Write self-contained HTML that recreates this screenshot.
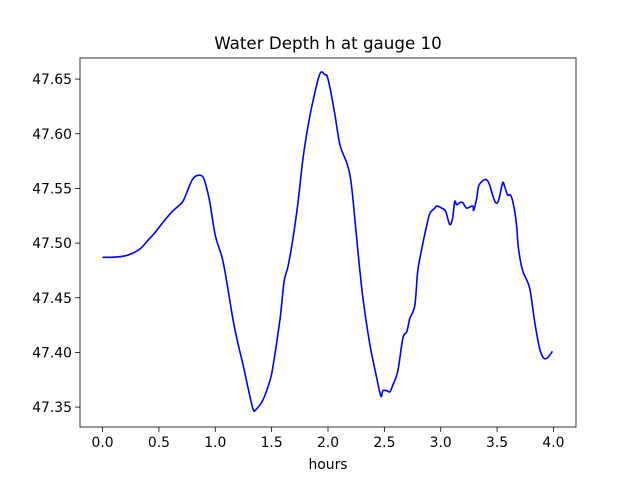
<!DOCTYPE html>
<html><head><meta charset="utf-8"><style>
body{margin:0;background:#fff;}
svg text{font-family:"DejaVu Sans","Liberation Sans",sans-serif;fill:#000;}
</style></head><body>
<svg id="c" width="640" height="480" xmlns="http://www.w3.org/2000/svg">
<rect width="640" height="480" fill="#fff"/>
<text x="328" y="49" font-size="16.7" text-anchor="middle">Water Depth h at gauge 10</text>
<text x="328" y="469" font-size="13.9" text-anchor="middle">hours</text>
<g id="g"></g>
</svg>
<script>
const xs=[0,.1,.186,.26,.336,.407,.46,.513,.56,.619,.673,.717,.796,.850,.894,.929,.956,1.0,1.062,1.106,1.159,1.195,1.248,1.292,1.336,1.363,1.425,1.487,1.513,1.575,1.611,1.646,1.690,1.735,1.779,1.823,1.867,1.929,1.973,1.991,2.018,2.062,2.106,2.168,2.195,2.221,2.265,2.310,2.372,2.434,2.469,2.487,2.522,2.549,2.575,2.619,2.664,2.699,2.726,2.770,2.796,2.832,2.876,2.903,2.947,2.965,3.009,3.044,3.080,3.106,3.124,3.142,3.168,3.195,3.230,3.283,3.292,3.319,3.336,3.372,3.407,3.434,3.460,3.487,3.513,3.549,3.566,3.593,3.619,3.646,3.673,3.690,3.726,3.788,3.832,3.876,3.912,3.947,3.991];
const ys=[47.487,47.4871,47.488,47.4905,47.495,47.503,47.509,47.516,47.522,47.529,47.534,47.539,47.558,47.562,47.560,47.548,47.535,47.507,47.486,47.462,47.429,47.411,47.388,47.367,47.348,47.348,47.357,47.375,47.388,47.431,47.465,47.479,47.505,47.538,47.578,47.607,47.630,47.655,47.654,47.653,47.642,47.617,47.590,47.573,47.562,47.541,47.493,47.450,47.407,47.376,47.360,47.365,47.365,47.364,47.370,47.383,47.413,47.419,47.431,47.443,47.474,47.495,47.516,47.527,47.532,47.534,47.532,47.529,47.517,47.523,47.538,47.535,47.537,47.537,47.532,47.534,47.530,47.541,47.552,47.557,47.558,47.553,47.544,47.537,47.539,47.555,47.552,47.544,47.544,47.535,47.516,47.495,47.475,47.459,47.429,47.404,47.395,47.395,47.401];
const xTicks=["0.0","0.5","1.0","1.5","2.0","2.5","3.0","3.5","4.0"];
const yTicks=["47.35","47.40","47.45","47.50","47.55","47.60","47.65"];
const L=80,R=576,T=58,B=427,X0=-0.2,X1=4.2,Y0=47.3318,Y1=47.6693;
const sx=v=>L+(v-X0)/(X1-X0)*(R-L), sy=v=>B-(v-Y0)/(Y1-Y0)*(B-T);
const g=document.getElementById('g'),NS="http://www.w3.org/2000/svg";
function mk(t,a){const e=document.createElementNS(NS,t);for(const k in a)e.setAttribute(k,a[k]);g.appendChild(e);return e;}
const P=xs.map((x,i)=>[sx(x),sy(ys[i])]);
let d='M'+P[0][0].toFixed(1)+','+P[0][1].toFixed(1);
for(let i=0;i<P.length-1;i++){const p0=P[Math.max(0,i-1)],p1=P[i],p2=P[i+1],p3=P[Math.min(P.length-1,i+2)];
const c1=[p1[0]+(p2[0]-p0[0])/6,p1[1]+(p2[1]-p0[1])/6],c2=[p2[0]-(p3[0]-p1[0])/6,p2[1]-(p3[1]-p1[1])/6];
d+='C'+c1[0].toFixed(1)+','+c1[1].toFixed(1)+' '+c2[0].toFixed(1)+','+c2[1].toFixed(1)+' '+p2[0].toFixed(1)+','+p2[1].toFixed(1);}
const ln=mk('path',{d:d,fill:'none',stroke:'#0000ff','stroke-width':1.6,'stroke-linejoin':'round'});


xTicks.forEach(t=>{const x=sx(parseFloat(t));
const tk=mk('line',{x1:x,x2:x,y1:B,y2:B+4.9,stroke:'#000','stroke-width':0.8});


const tx=mk('text',{x:x,y:B+20,'font-size':13.9,'text-anchor':'middle'});tx.textContent=t;

});
yTicks.forEach(t=>{const y=sy(parseFloat(t));
const tk=mk('line',{x1:L-4.9,x2:L,y1:y,y2:y,stroke:'#000','stroke-width':0.8});


const tx=mk('text',{x:L-8,y:y+5,'font-size':13.9,'text-anchor':'end'});tx.textContent=t;

});
const fr=mk('rect',{x:L,y:T,width:R-L,height:B-T,fill:'none',stroke:'#000','stroke-width':0.8});


</script>
</body></html>
